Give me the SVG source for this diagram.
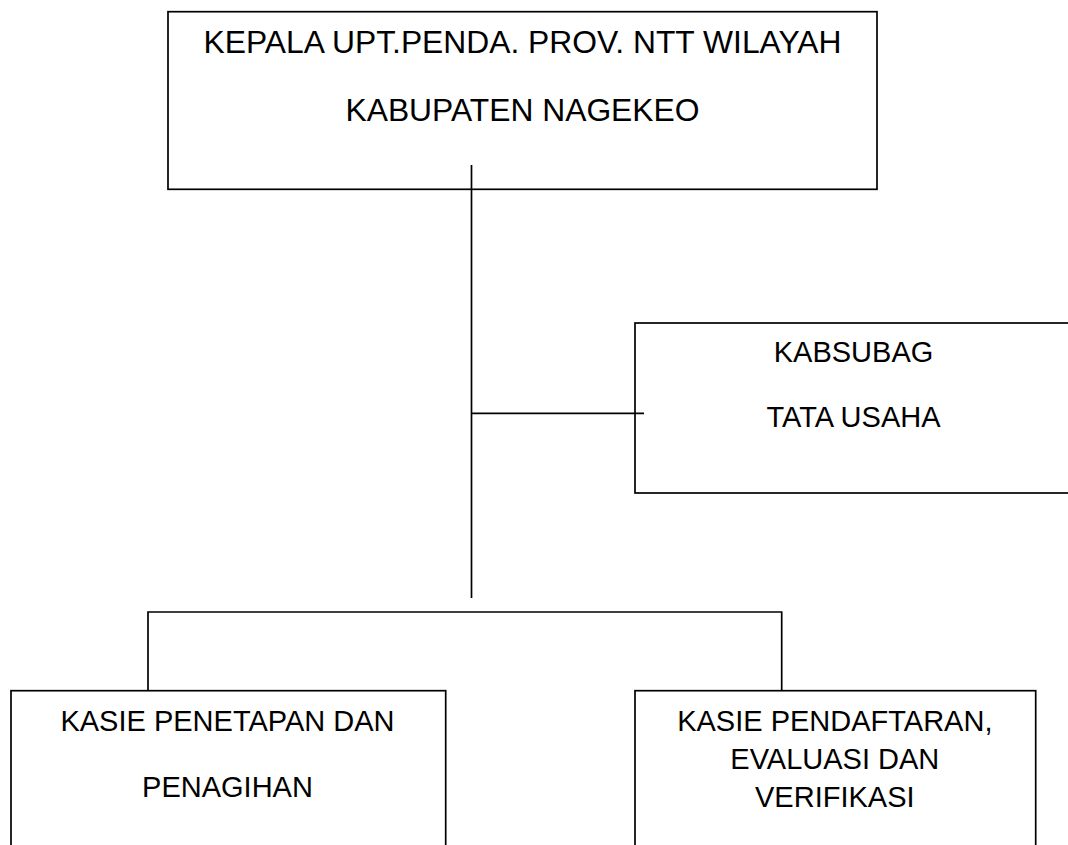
<svg xmlns="http://www.w3.org/2000/svg" width="1068" height="845" viewBox="0 0 1068 845">
<style>
.box{fill:none;stroke:#000;stroke-width:1.7}
.ln{fill:none;stroke:#000;stroke-width:1.7}
text{font-family:"Liberation Sans",Arial,sans-serif;fill:#000;text-anchor:middle}
.big{font-size:31.8px}
.t{font-size:29px}
</style>
<rect width="1068" height="845" fill="#fff"/>
<g id="connectors">
<line class="ln" x1="471.5" y1="165" x2="471.5" y2="598"/>
<line class="ln" x1="471.5" y1="413.3" x2="644" y2="413.3"/>
<polyline class="ln" points="148,690.7 148,612 781.7,612 781.7,690.7"/>
</g>
<g id="kepala">
<rect class="box" x="168" y="11.7" width="709" height="177.6"/>
<text class="big" x="522.5" y="53.3">KEPALA UPT.PENDA. PROV. NTT WILAYAH</text>
<text class="big" x="522.5" y="120.7">KABUPATEN NAGEKEO</text>
</g>
<g id="kabsubag">
<rect class="box" x="635" y="323" width="436" height="170"/>
<text class="t" x="853.5" y="361.7">KABSUBAG</text>
<text class="t" x="853.5" y="426.7">TATA USAHA</text>
</g>
<g id="kasie-penetapan">
<rect class="box" x="11" y="690.7" width="434.7" height="170"/>
<text class="t" x="227.5" y="730.7">KASIE PENETAPAN DAN</text>
<text class="t" x="227.5" y="796.7">PENAGIHAN</text>
</g>
<g id="kasie-pendaftaran">
<rect class="box" x="635" y="690.7" width="400.7" height="170"/>
<text class="t" x="834.8" y="731">KASIE PENDAFTARAN,</text>
<text class="t" x="834.8" y="769.3">EVALUASI DAN</text>
<text class="t" x="834.8" y="806.7">VERIFIKASI</text>
</g>
</svg>
